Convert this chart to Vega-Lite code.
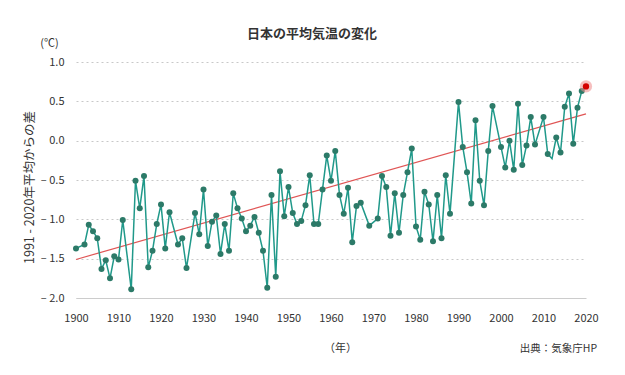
{
  "$schema": "https://vega.github.io/schema/vega-lite/v6.json",
  "autosize": {"type": "none"},
  "width": 510,
  "height": 236,
  "padding": {"left": 76, "top": 62, "right": 39, "bottom": 77},
  "background": "white",
  "config": {"font": "Noto Sans CJK JP", "view": {"stroke": null}},
  "title": {"text": "日本の平均気温の変化", "fontSize": 13, "fontWeight": "bold", "color": "#333333", "anchor": "middle", "frame": "group", "dx": -19, "offset": 22, "dy": 26},
  "datasets": {
    "temp": [
      {"year": 1900, "value": -1.37}, {"year": 1902, "value": -1.32}, {"year": 1903, "value": -1.07}, {"year": 1904, "value": -1.15},
      {"year": 1905, "value": -1.24}, {"year": 1906, "value": -1.63}, {"year": 1907, "value": -1.52}, {"year": 1908, "value": -1.75},
      {"year": 1909, "value": -1.47}, {"year": 1910, "value": -1.51}, {"year": 1911, "value": -1.01}, {"year": 1913, "value": -1.89},
      {"year": 1914, "value": -0.51}, {"year": 1915, "value": -0.86}, {"year": 1916, "value": -0.45}, {"year": 1917, "value": -1.61},
      {"year": 1918, "value": -1.40}, {"year": 1919, "value": -1.06}, {"year": 1920, "value": -0.81}, {"year": 1921, "value": -1.37},
      {"year": 1922, "value": -0.91}, {"year": 1924, "value": -1.32}, {"year": 1925, "value": -1.24}, {"year": 1926, "value": -1.62},
      {"year": 1928, "value": -0.92}, {"year": 1929, "value": -1.19}, {"year": 1930, "value": -0.62}, {"year": 1931, "value": -1.34},
      {"year": 1932, "value": -1.03}, {"year": 1933, "value": -0.95}, {"year": 1934, "value": -1.44}, {"year": 1935, "value": -1.06},
      {"year": 1936, "value": -1.40}, {"year": 1937, "value": -0.67}, {"year": 1938, "value": -0.86}, {"year": 1939, "value": -0.99},
      {"year": 1940, "value": -1.15}, {"year": 1941, "value": -1.08}, {"year": 1942, "value": -0.97}, {"year": 1943, "value": -1.17},
      {"year": 1944, "value": -1.40}, {"year": 1945, "value": -1.87}, {"year": 1946, "value": -0.69}, {"year": 1947, "value": -1.73},
      {"year": 1948, "value": -0.39}, {"year": 1949, "value": -0.96}, {"year": 1950, "value": -0.59}, {"year": 1951, "value": -0.92},
      {"year": 1952, "value": -1.06}, {"year": 1953, "value": -1.02}, {"year": 1954, "value": -0.82}, {"year": 1955, "value": -0.44},
      {"year": 1956, "value": -1.06}, {"year": 1957, "value": -1.06}, {"year": 1958, "value": -0.62}, {"year": 1959, "value": -0.19},
      {"year": 1960, "value": -0.51}, {"year": 1961, "value": -0.13}, {"year": 1962, "value": -0.69}, {"year": 1963, "value": -0.93},
      {"year": 1964, "value": -0.60}, {"year": 1965, "value": -1.29}, {"year": 1966, "value": -0.83}, {"year": 1967, "value": -0.79},
      {"year": 1969, "value": -1.08}, {"year": 1971, "value": -0.99}, {"year": 1972, "value": -0.45}, {"year": 1973, "value": -0.59},
      {"year": 1974, "value": -1.21}, {"year": 1975, "value": -0.67}, {"year": 1976, "value": -1.17}, {"year": 1977, "value": -0.69},
      {"year": 1978, "value": -0.40}, {"year": 1979, "value": -0.10}, {"year": 1980, "value": -1.09}, {"year": 1981, "value": -1.26},
      {"year": 1982, "value": -0.65}, {"year": 1983, "value": -0.81}, {"year": 1984, "value": -1.28}, {"year": 1985, "value": -0.69},
      {"year": 1986, "value": -1.24}, {"year": 1987, "value": -0.44}, {"year": 1988, "value": -0.93}, {"year": 1990, "value": 0.49},
      {"year": 1991, "value": -0.08}, {"year": 1992, "value": -0.40}, {"year": 1993, "value": -0.80}, {"year": 1994, "value": 0.26},
      {"year": 1995, "value": -0.51}, {"year": 1996, "value": -0.82}, {"year": 1997, "value": -0.13}, {"year": 1998, "value": 0.44},
      {"year": 2000, "value": -0.08}, {"year": 2001, "value": -0.34}, {"year": 2002, "value": 0.00}, {"year": 2003, "value": -0.37},
      {"year": 2004, "value": 0.47}, {"year": 2005, "value": -0.31}, {"year": 2006, "value": -0.06}, {"year": 2007, "value": 0.30},
      {"year": 2008, "value": -0.05}, {"year": 2010, "value": 0.30}, {"year": 2011, "value": -0.17}, {"year": 2012, "value": -0.23},
      {"year": 2013, "value": 0.04}, {"year": 2014, "value": -0.15}, {"year": 2015, "value": 0.43}, {"year": 2016, "value": 0.60},
      {"year": 2017, "value": -0.04}, {"year": 2018, "value": 0.42}, {"year": 2019, "value": 0.63}, {"year": 2020, "value": 0.69}
    ],
    "trend": [
      {"year": 1900, "trend": -1.51},
      {"year": 2020, "trend": 0.34}
    ]
  },
  "layer": [
    {
      "data": {"name": "trend"},
      "mark": {"type": "line", "color": "#e05555", "strokeWidth": 1.2},
      "encoding": {
        "x": {"field": "year", "type": "quantitative", "scale": {"domain": [1900, 2020], "nice": false, "zero": false},
              "axis": {"orient": "bottom", "labels": false, "ticks": false, "domain": false, "grid": false,
                       "title": "出典：気象庁HP", "titleFontSize": 10.5, "titleFontWeight": "normal", "titleColor": "#333333",
                       "titleX": 482, "titleY": 50, "titleAlign": "center", "titleBaseline": "middle"}},
        "y": {"field": "trend", "type": "quantitative", "scale": {"domain": [-2, 1], "nice": false, "zero": false},
              "axis": {"orient": "left", "labels": false, "ticks": false, "domain": false, "grid": false,
                       "title": "(℃)", "titleAngle": 0, "titleFontSize": 11, "titleFontWeight": "normal", "titleColor": "#333333",
                       "titleX": -27, "titleY": -19, "titleAlign": "center", "titleBaseline": "middle"}}
      }
    },
    {
      "data": {"name": "temp"},
      "encoding": {
        "x": {"field": "year", "type": "quantitative", "scale": {"domain": [1900, 2020], "nice": false, "zero": false},
              "axis": {"orient": "bottom", "values": [1900, 1910, 1920, 1930, 1940, 1950, 1960, 1970, 1980, 1990, 2000, 2010, 2020],
                       "format": "d", "grid": false, "ticks": false, "domain": true, "domainColor": "#cccccc",
                       "labelFontSize": 11, "labelColor": "#333333", "labelPadding": 14, "labelFlush": false,
                       "title": "（年）", "titleFontSize": 11, "titleFontWeight": "normal", "titleColor": "#333333",
                       "titleX": 264, "titleY": 50, "titleAlign": "center", "titleBaseline": "middle"}},
        "y": {"field": "value", "type": "quantitative", "scale": {"domain": [-2, 1], "nice": false, "zero": false},
              "axis": {"orient": "left", "values": [-2, -1.5, -1, -0.5, 0, 0.5, 1],
                       "labelExpr": "datum.value < 0 ? '– ' + format(-datum.value, '.1f') : format(datum.value, '.1f')",
                       "grid": true, "gridDash": [2, 3], "gridColor": "#c8c8c8", "ticks": false, "domain": false,
                       "labelFontSize": 11, "labelColor": "#333333", "labelPadding": 12,
                       "title": "1991 - 2020年平均からの差", "titleFontSize": 12.5, "titleFontWeight": "normal", "titleColor": "#333333",
                       "titleX": -47, "titleY": 125, "titleAlign": "center", "titleBaseline": "middle"}}
      },
      "layer": [
        {"mark": {"type": "line", "color": "#20998a", "strokeWidth": 1.5}},
        {"transform": [{"filter": "datum.year != 2012 && datum.year != 2020"}],
         "mark": {"type": "point", "filled": true, "size": 36, "color": "#2c7a68", "opacity": 1}},
        {"transform": [{"filter": "datum.year == 2020"}],
         "mark": {"type": "point", "filled": true, "size": 150, "color": "#ee8a8a", "opacity": 0.55}},
        {"transform": [{"filter": "datum.year == 2020"}],
         "mark": {"type": "point", "filled": true, "size": 40, "color": "#d40000", "opacity": 1}}
      ]
    }
  ],
  "resolve": {"axis": {"x": "independent", "y": "independent"}}
}
